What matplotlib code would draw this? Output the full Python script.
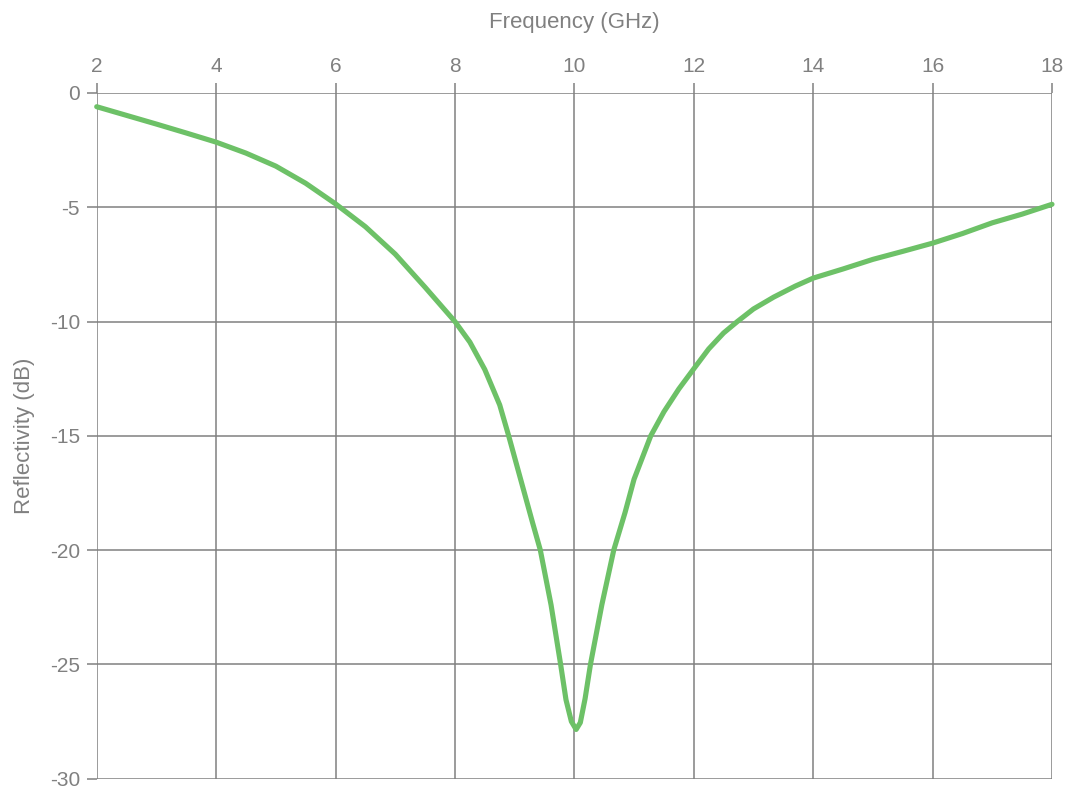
import matplotlib
matplotlib.use("Agg")
import matplotlib.pyplot as plt

freq_ghz = [2.0, 2.5, 3.0, 3.5, 4.0, 4.5, 5.0, 5.5, 6.0, 6.5, 7.0, 7.5, 8.0,
            8.25, 8.5, 8.75, 8.9, 9.1, 9.3, 9.43, 9.61, 9.77, 9.86, 9.95,
            10.03, 10.1, 10.18, 10.27, 10.46, 10.66, 10.85, 11.0, 11.28,
            11.5, 11.75, 12.0, 12.25, 12.5, 12.73, 13.0, 13.34, 13.7, 14.0,
            14.5, 15.0, 15.5, 16.0, 16.5, 17.0, 17.5, 18.0]
reflectivity_db = [-0.6, -0.98, -1.36, -1.75, -2.15, -2.63, -3.2, -3.95, -4.85,
                   -5.85, -7.05, -8.5, -10.0, -10.9, -12.1, -13.65, -15.0,
                   -16.9, -18.8, -20.0, -22.4, -25.0, -26.55, -27.5, -27.85,
                   -27.55, -26.5, -25.0, -22.4, -20.0, -18.35, -16.9, -15.0,
                   -13.95, -12.95, -12.07, -11.2, -10.5, -10.0, -9.45, -8.93,
                   -8.45, -8.1, -7.7, -7.28, -6.93, -6.57, -6.15, -5.68,
                   -5.3, -4.87]

x_ticks = [2, 4, 6, 8, 10, 12, 14, 16, 18]
y_ticks = [0, -5, -10, -15, -20, -25, -30]

GRAY = "#808080"
plt.rcParams['font.family'] = ['Liberation Sans', 'DejaVu Sans']

fig = plt.figure(figsize=(10.7, 7.88), dpi=100)
W, H = 1070, 788
left, right, top, bottom = 96.7, 1052, 93.0, 778.6
ax = fig.add_axes([left / W, 1 - bottom / H, (right - left) / W, (bottom - top) / H])

ax.plot(freq_ghz, reflectivity_db, color="#6dc167", lw=3.7,
        solid_capstyle="round", solid_joinstyle="round", zorder=3, clip_on=False)

ax.set_xlim(2, 18)
ax.set_ylim(-30, 0)
ax.set_xticks(x_ticks)
ax.set_yticks(y_ticks)
ax.set_yticklabels([str(v) for v in y_ticks])

ax.xaxis.tick_top()
ax.xaxis.set_label_position("top")
ax.grid(True, color=GRAY, lw=1.1)
for s in ax.spines.values():
    s.set_visible(False)
ax.tick_params(axis="both", colors=GRAY, labelcolor=GRAY, labelsize=15,
               length=7, width=1.1)
ax.tick_params(axis="x", pad=5)
ax.tick_params(axis="y", pad=5)

ax.set_xlabel("Frequency (GHz)", color=GRAY, fontsize=16, labelpad=21)
ax.set_ylabel("Reflectivity (dB)", color=GRAY, fontsize=16, labelpad=11)

fig.savefig("out.png", dpi=100, facecolor="white")
